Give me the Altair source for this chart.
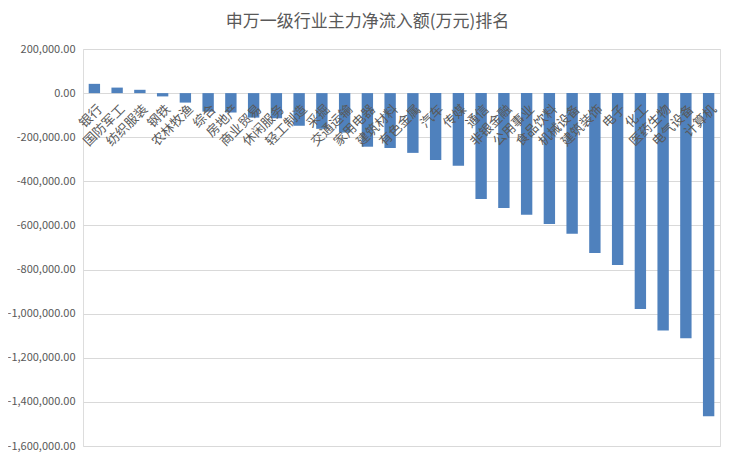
import altair as alt
import pandas as pd

categories = ["银行", "国防军工", "纺织服装", "钢铁", "农林牧渔", "综合", "房地产",
              "商业贸易", "休闲服务", "轻工制造", "采掘", "交通运输", "家用电器", "建筑材料",
              "有色金属", "汽车", "传媒", "通信", "非银金融", "公用事业", "食品饮料",
              "机械设备", "建筑装饰", "电子", "化工", "医药生物", "电气设备", "计算机"]
values = [42000, 25000, 15000, -15000, -43000, -84000, -88000,
          -111000, -114000, -148000, -162000, -179000, -243000, -249000,
          -271000, -303000, -329000, -480000, -521000, -552000, -593000,
          -638000, -725000, -779000, -979000, -1076000, -1111000, -1465000]
y_ticks = [200000, 0, -200000, -400000, -600000, -800000, -1000000,
           -1200000, -1400000, -1600000]

df = pd.DataFrame({"cat": categories, "val": values, "zero": [0] * len(categories)})

FONT = "Noto Sans CJK SC"
GREY = "#595959"

xscale = alt.Scale(paddingInner=0.5, paddingOuter=0.25)
yscale = alt.Scale(domain=[-1600000, 200000], nice=False)

bars = alt.Chart(df).mark_bar(color="#4f81bd").encode(
    x=alt.X("cat:N", sort=categories, scale=xscale, axis=None),
    y=alt.Y("val:Q", scale=yscale,
            axis=alt.Axis(values=y_ticks, title=None, domain=False, ticks=False,
                          labelColor=GREY, labelFontSize=11, labelFont=FONT,
                          labelPadding=8, gridColor="#d9d9d9", gridWidth=1,
                          labelExpr="replace(format(datum.value, ',.2f'), '−', '-')")),
)

labels = alt.Chart(df).mark_text(
    angle=315, align="right", baseline="middle", dx=-6, dy=14,
    font=FONT, fontSize=13, color=GREY,
).encode(
    x=alt.X("cat:N", sort=categories, scale=xscale, axis=None),
    y=alt.Y("zero:Q", scale=yscale),
    text="cat:N",
)

chart = alt.layer(bars, labels).properties(
    width=637, height=397,
    autosize=alt.AutoSizeParams(type="none"),
    padding={"left": 75, "top": 41, "right": 6, "bottom": 6},
    title=alt.TitleParams("申万一级行业主力净流入额(万元)排名", font=FONT, fontSize=17,
                          fontWeight="normal", color=GREY, anchor="middle",
                          dx=-34, offset=12),
).configure_view(stroke=None).configure(background="white")

chart.save("out.html", embed_options={"renderer": "svg", "actions": False})
